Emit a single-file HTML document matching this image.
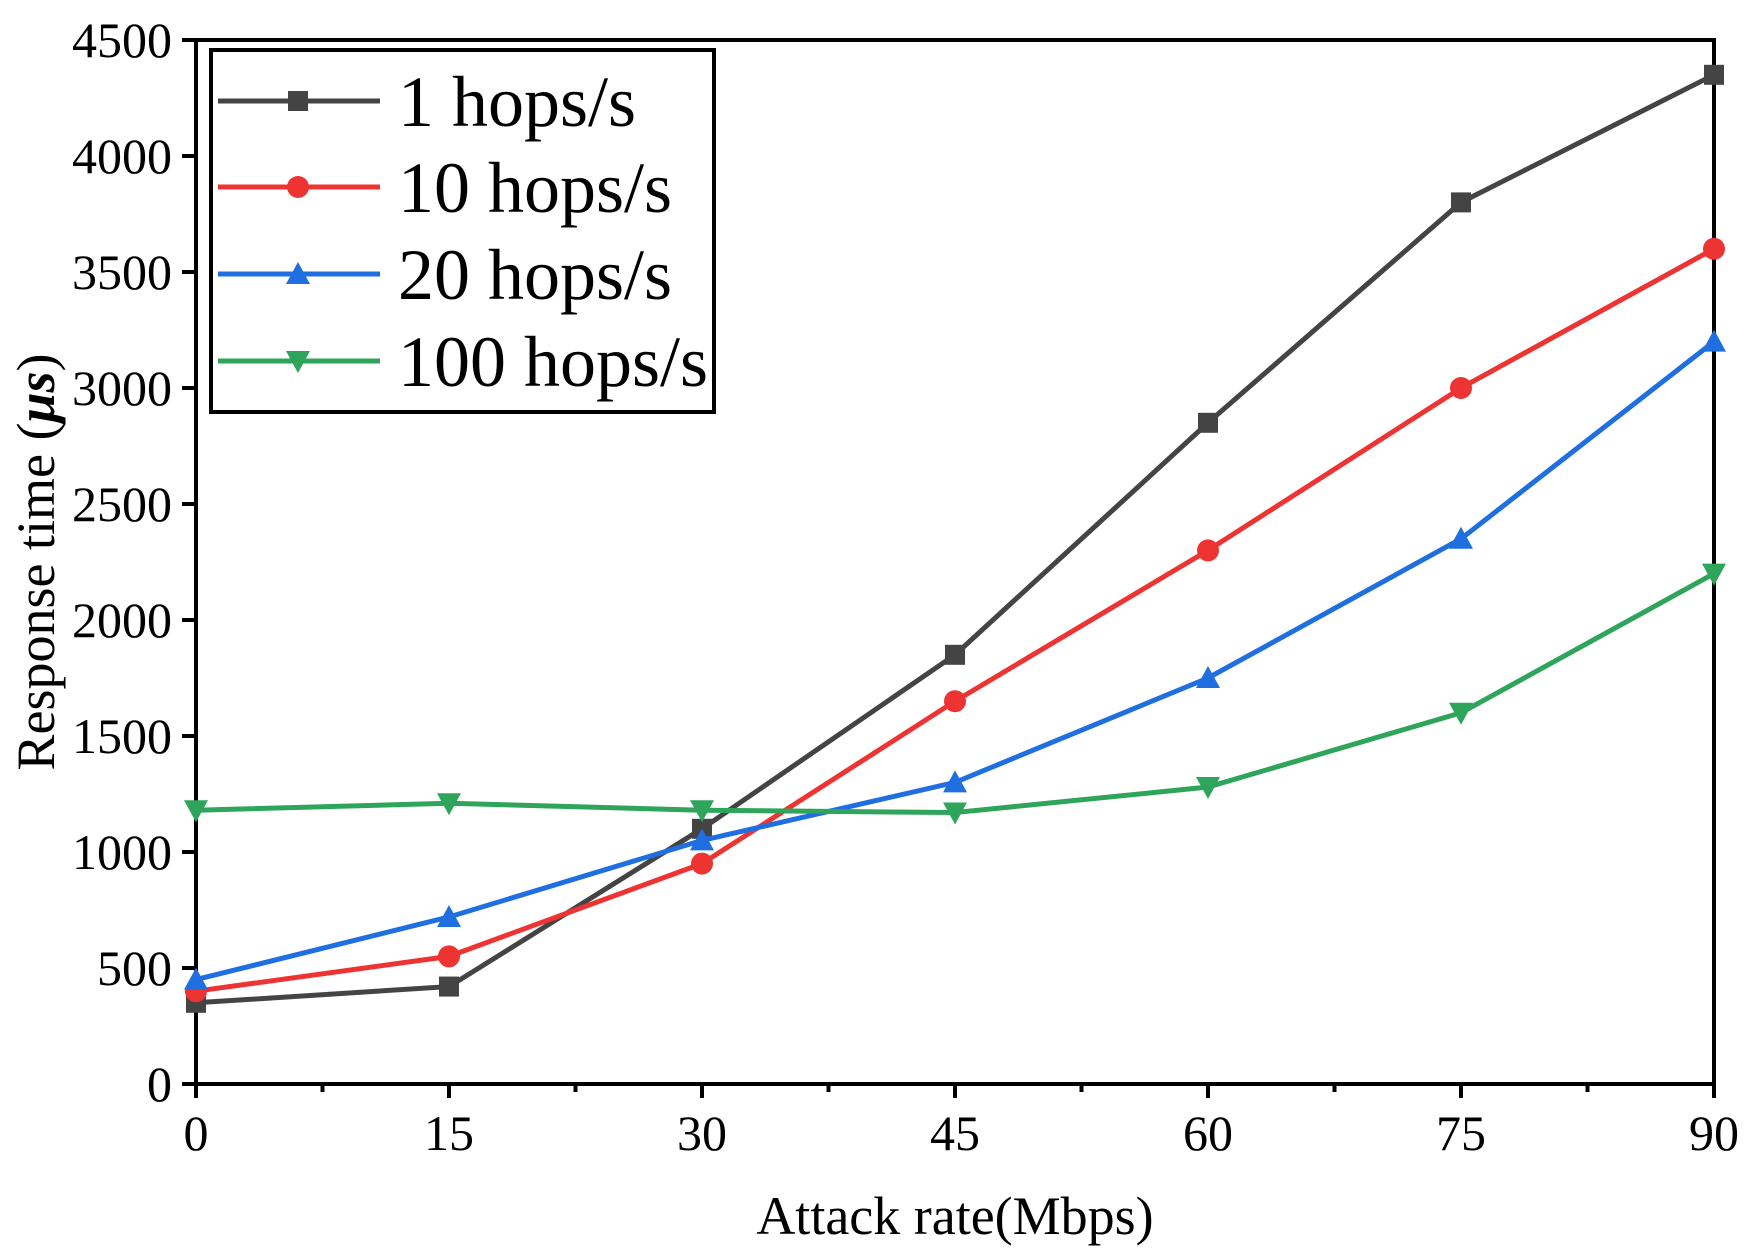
<!DOCTYPE html>
<html><head><meta charset="utf-8"><style>
body{margin:0;background:#fff}
svg text{font-family:"Liberation Serif",serif;fill:#000}
</style></head><body>
<svg id="chart" width="1761" height="1250" viewBox="0 0 1761 1250" xmlns="http://www.w3.org/2000/svg">
<g id="plot"></g>
</svg>
<script>
const categories=[0,15,30,45,60,75,90];
const yTicks=[0,500,1000,1500,2000,2500,3000,3500,4000,4500];
const s1=[350,420,1100,1850,2850,3800,4350];
const s10=[400,550,950,1650,2300,3000,3600];
const s20=[450,720,1050,1300,1750,2350,3200];
const s100=[1180,1210,1180,1170,1280,1600,2200];
const seriesNames=["1 hops/s","10 hops/s","20 hops/s","100 hops/s"];

const X0=196,X1=1714,Y0=1084,Y1=40;
const xs=v=>X0+(v-0)/90*(X1-X0);
const ys=v=>Y0-(v/4500)*(Y0-Y1);
const NS="http://www.w3.org/2000/svg";
const g=document.getElementById('plot');
function mk(t,a,parent){const e=document.createElementNS(NS,t);for(const k in a)e.setAttribute(k,a[k]);(parent||g).appendChild(e);return e;}

let fr=mk('rect',{x:X0,y:Y1,width:X1-X0,height:Y0-Y1,fill:'none',stroke:'#000','stroke-width':4});


categories.forEach(c=>{
  const t=mk('line',{x1:xs(c),x2:xs(c),y1:Y0,y2:Y0+14,stroke:'#000','stroke-width':4});
  
  
  const l=mk('text',{x:xs(c),y:1150,'text-anchor':'middle','font-size':50});
  l.textContent=c;
  
  
});
for(let i=0;i<categories.length-1;i++){
  const m=(categories[i]+categories[i+1])/2;
  const t=mk('line',{x1:xs(m),x2:xs(m),y1:Y0,y2:Y0+8,stroke:'#000','stroke-width':4});
  
  
}
yTicks.forEach(v=>{
  const t=mk('line',{x1:X0-14,x2:X0,y1:ys(v),y2:ys(v),stroke:'#000','stroke-width':4});
  
  
  const l=mk('text',{x:172,y:ys(v)+17,'text-anchor':'end','font-size':50});
  l.textContent=v;
  
  
});
let xt=mk('text',{x:(X0+X1)/2,y:1234,'text-anchor':'middle','font-size':54});
xt.textContent='Attack rate(Mbps)';


let yt=mk('text',{x:0,y:0,'text-anchor':'middle','font-size':54,transform:'translate(54,562) rotate(-90)'});
yt.innerHTML='Response time (<tspan font-style="italic" font-weight="bold">μs</tspan>)';



const colors=['#444444','#ee3333','#1f6fe0','#2ea55a'];
const shapes=['square','circle','up','down'];
function marker(shape,x,y,c,p){
  let e;
  if(shape==='square')e=mk('rect',{x:x-10,y:y-10,width:20,height:20,fill:c},p);
  else if(shape==='circle')e=mk('circle',{cx:x,cy:y,r:11,fill:c},p);
  else if(shape==='up')e=mk('polygon',{points:`${x},${y-12} ${x+12},${y+10} ${x-12},${y+10}`,fill:c},p);
  else e=mk('polygon',{points:`${x},${y+12} ${x+12},${y-10} ${x-12},${y-10}`,fill:c},p);
  return e;
}
[s1,s10,s20,s100].forEach((s,i)=>{
  const grp=mk('g',{});
  
  
  const pl=mk('polyline',{points:s.map((v,j)=>xs(categories[j])+','+ys(v)).join(' '),fill:'none',stroke:colors[i],'stroke-width':5},grp);
  
  
  s.forEach((v,j)=>{
    const m=marker(shapes[i],xs(categories[j]),ys(v),colors[i],grp);
    
    
  });
});
const lg=mk('g',{});


mk('rect',{x:211,y:50,width:503,height:362,fill:'#fff',stroke:'#000','stroke-width':4},lg);
const ly=[101,187,274,361];
seriesNames.forEach((n,i)=>{
  const e=mk('g',{},lg);
  
  
  mk('line',{x1:218,x2:380,y1:ly[i],y2:ly[i],stroke:colors[i],'stroke-width':5},e);
  marker(shapes[i],298,ly[i],colors[i],e);
  const t=mk('text',{x:398,y:ly[i]+25,'font-size':72},e);
  t.textContent=n;
});
</script>
</body></html>
